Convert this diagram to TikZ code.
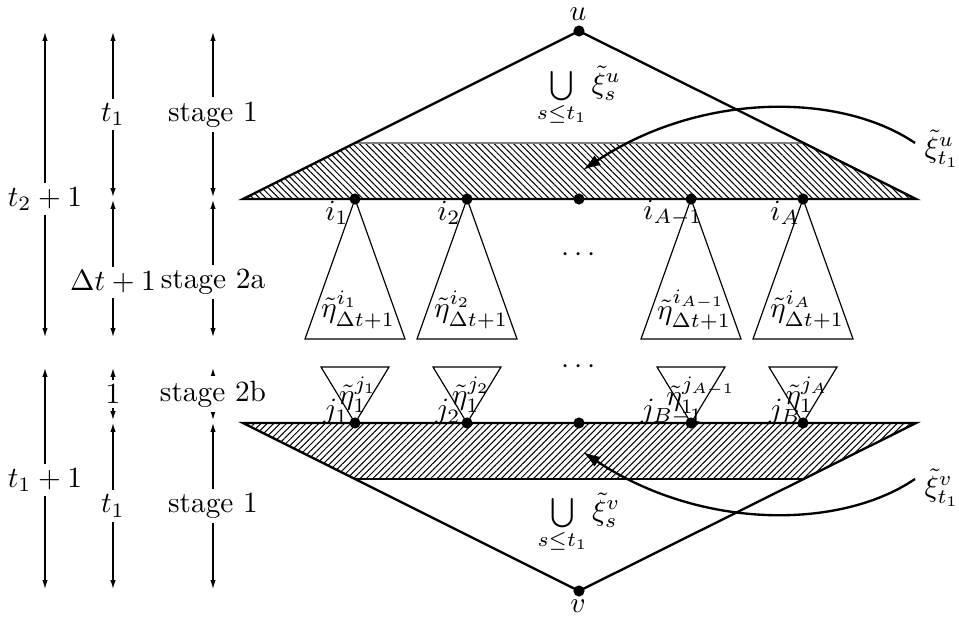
\documentclass[tikz,border=0pt]{standalone}
\usetikzlibrary{arrows.meta,patterns.meta}
\begin{document}
\begin{tikzpicture}[x=0.341pt,y=-0.341pt,
  dot/.style={circle,fill=black,inner sep=0pt,minimum size=3.8pt},
  big/.style={line width=0.8pt},
  tri/.style={line width=0.4pt},
  dimarrow/.style={{Latex[length=3pt,width=1.8pt]}-{Latex[length=3pt,width=1.8pt]},line width=0.4pt},
  lbl/.style={fill=white,inner sep=1.5pt},
  curvearrow/.style={line width=0.8pt,-{Latex[length=6pt,width=4pt]}},
  hatchA/.style={pattern={Lines[angle=-45,distance=1.55pt,line width=0.35pt]}},
  hatchB/.style={pattern={Lines[angle=45,distance=1.55pt,line width=0.35pt]}}]
\useasboundingbox (0,0) rectangle (959,620);

% main coordinates
\coordinate (U) at (579,31);
\coordinate (V) at (579,591);
\coordinate (UL) at (243,199); \coordinate (UR) at (916,199);
\coordinate (TL) at (355,143); \coordinate (TR) at (803,143);
\coordinate (LL) at (243,423); \coordinate (LR) at (916,423);
\coordinate (BL) at (355,479); \coordinate (BR) at (803,479);
\foreach \x/\n in {355/1,467/2,579/3,691/4,803/5}{
  \coordinate (pa\n) at (\x,199);
  \coordinate (pb\n) at (\x,423);
}

% hatched bands
\fill[hatchA] (UL) -- (TL) -- (TR) -- (UR) -- cycle;
\draw[gray,line width=0.5pt] (TL) -- (TR);
\fill[hatchB] (LL) -- (BL) -- (BR) -- (LR) -- cycle;
\draw[line width=0.5pt] (BL) -- (BR);

% big triangles
\draw[big] (UL) -- (U) -- (UR) -- cycle;
\draw[big] (LL) -- (V) -- (LR) -- cycle;

% small triangles
\foreach \n in {1,2,4,5}{
  \draw[tri] (pa\n) -- ++(-50,140) -- ++(100,0) -- cycle;
  \draw[tri] (pb\n) -- ++(-34,-56) -- ++(68,0) -- cycle;
}

% dots
\node[dot] (u) at (U) {};
\node[dot] (v) at (V) {};
\foreach \n in {1,...,5}{
  \node[dot] (a\n) at (pa\n) {};
  \node[dot] (b\n) at (pb\n) {};
}

% vertex labels
\node (ulab) at (578,14) {$u$};
\node (vlab) at (578,606) {$v$};

% unions
\node (unu) at (579,96) {$\bigcup\limits_{s\le t_1}\tilde\xi^u_s$};
\node (unv) at (579,523) {$\bigcup\limits_{s\le t_1}\tilde\xi^v_s$};

% i labels
\node (li1) at (337,213) {$i_1$};
\node (li2) at (449,213) {$i_2$};
\node (li4) at (673,213) {$i_{A-1}$};
\node (li5) at (785,213) {$i_A$};

% j labels
\node (lj1) at (336,412) {$j_1$};
\node (lj2) at (448,412) {$j_2$};
\node (lj4) at (672,412) {$j_{B-1}$};
\node (lj5) at (785,412) {$j_B$};

% eta labels upper
\node (ea1) at (358,310) {$\tilde\eta^{i_1}_{\Delta t+1}$};
\node (ea2) at (471,310) {$\tilde\eta^{i_2}_{\Delta t+1}$};
\node (ea4) at (694,310) {$\tilde\eta^{i_{A-1}}_{\Delta t+1}$};
\node (ea5) at (807,310) {$\tilde\eta^{i_A}_{\Delta t+1}$};

% eta labels lower
\node (eb1) at (358,395) {$\tilde\eta^{j_1}_1$};
\node (eb2) at (471,395) {$\tilde\eta^{j_2}_1$};
\node (eb4) at (701,395) {$\tilde\eta^{j_{A-1}}_1$};
\node (eb5) at (807,395) {$\tilde\eta^{j_A}_1$};

% ellipses
\node (dd1) at (579,255) {$\cdots$};
\node (dd2) at (579,367) {$\cdots$};

% xi labels and curved arrows
\node (xiu) at (942,149) {$\tilde\xi^u_{t_1}$};
\node (xiv) at (942,488) {$\tilde\xi^v_{t_1}$};
\coordinate (xiuS) at (915,143); \coordinate (xiuT) at (583,170);
\coordinate (xivS) at (915,479); \coordinate (xivT) at (583,452);
\draw[curvearrow] (xiuS) .. controls (840,92) and (700,92) .. (xiuT);
\draw[curvearrow] (xivS) .. controls (840,530) and (700,530) .. (xivT);

% dimension arrows
\coordinate (d1a) at (45,32);  \coordinate (d1b) at (45,337);
\coordinate (d2a) at (113,32); \coordinate (d2b) at (113,197);
\coordinate (d3a) at (113,200); \coordinate (d3b) at (113,337);
\coordinate (d4a) at (213,32); \coordinate (d4b) at (213,197);
\coordinate (d5a) at (213,200); \coordinate (d5b) at (213,337);
\coordinate (d6a) at (45,368);  \coordinate (d6b) at (45,589);
\coordinate (d7a) at (113,368); \coordinate (d7b) at (113,420);
\coordinate (d8a) at (113,423); \coordinate (d8b) at (113,589);
\coordinate (d9a) at (213,368); \coordinate (d9b) at (213,420);
\coordinate (d10a) at (213,423); \coordinate (d10b) at (213,589);

\draw[dimarrow] (d1a) -- node[lbl,pos=0.548]{$t_2+1$} (d1b);
\draw[dimarrow] (d2a) -- node[lbl]{$t_1$} (d2b);
\draw[dimarrow] (d3a) -- node[lbl,pos=0.6]{$\Delta t+1$} (d3b);
\draw[dimarrow] (d4a) -- node[lbl]{stage 1} (d4b);
\draw[dimarrow] (d5a) -- node[lbl,pos=0.6]{stage 2a} (d5b);
\draw[dimarrow] (d6a) -- node[lbl,pos=0.507]{$t_1+1$} (d6b);
\draw[dimarrow] (d7a) -- node[lbl]{$1$} (d7b);
\draw[dimarrow] (d8a) -- node[lbl]{$t_1$} (d8b);
\draw[dimarrow] (d9a) -- node[lbl]{stage 2b} (d9b);
\draw[dimarrow] (d10a) -- node[lbl]{stage 1} (d10b);
\end{tikzpicture}
\end{document}
